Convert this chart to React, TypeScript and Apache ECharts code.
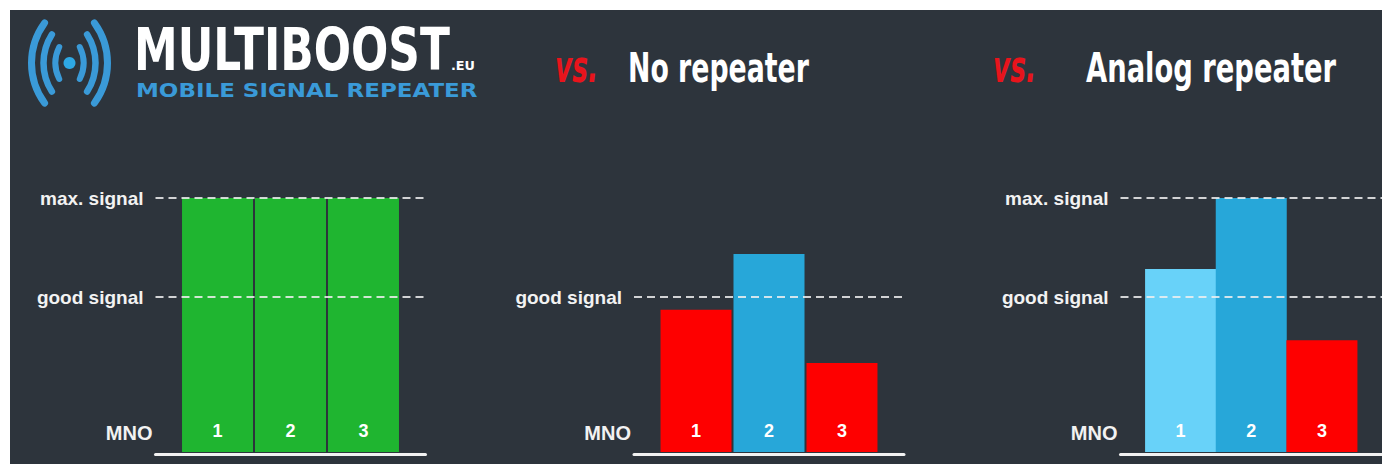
import React, { useEffect, useRef } from 'react';
import * as echarts from 'echarts';

// ---------- data ----------
const categories = ['1', '2', '3'];
const directValues = [100, 100, 100];
const noRepeaterValues = [56, 78, 35];
const analogValues = [72, 100, 44];
const maxSignal = 100;
const goodSignal = 61;
const maxLabel = 'max. signal';
const goodLabel = 'good signal';
const axisName = 'MNO';
const vsText = 'vs.';
const titleNoRep = 'No repeater';
const titleAnalog = 'Analog repeater';
const brand = 'MULTIBOOST';
const brandSuffix = '.EU';
const tagline = 'MOBILE SIGNAL REPEATER';

// ---------- styles ----------
const BG = '#2d343c';
const GREEN = '#1fb530';
const RED = '#fe0000';
const BLUE = '#27a7d9';
const LIGHT = '#68d2f9';
const LOGO_BLUE = '#3a9ad8';
const WHITE = '#f2f2f2';
const directColors = [GREEN, GREEN, GREEN];
const noRepColors = [RED, BLUE, RED];
const analogColors = [LIGHT, BLUE, RED];

const LABEL_FONT = '"Liberation Sans", Arial, sans-serif';
const HEAD_FONT = '"DejaVu Sans"';

function measure(text: string, font: string): number {
  const c = document.createElement('canvas');
  const ctx = c.getContext('2d');
  if (!ctx) return 100;
  ctx.font = font;
  return ctx.measureText(text).width || 100;
}

function headText(text: string, x: number, y: number, size: number, width: number, color: string, italic = false, weight = 'bold') {
  const font = `${italic ? 'italic ' : ''}${weight} ${size}px ${HEAD_FONT}`;
  const w = measure(text, font);
  return {
    type: 'text',
    x,
    y,
    scaleX: width / w,
    silent: true,
    style: {
      text,
      fill: color,
      fontSize: size,
      fontWeight: weight,
      fontStyle: italic ? 'italic' : 'normal',
      fontFamily: HEAD_FONT,
      align: 'left',
      verticalAlign: 'middle',
    },
  };
}

function arcEl(cx: number, cy: number, r: number, a0: number, a1: number, width: number) {
  return {
    type: 'arc',
    silent: true,
    shape: { cx, cy, r, startAngle: a0, endAngle: a1, clockwise: true },
    style: { stroke: LOGO_BLUE, lineWidth: width, fill: 'none', lineCap: 'round' },
  };
}

const GRID_LEFTS = [145.5, 624, 1110.5];
const GRID_TOP = 188;
const GRID_H = 254;
const GRID_W = 270;

function buildSeries(idx: number, values: number[], colors: string[], lines: { v: number; n: string }[]) {
  return {
    type: 'bar',
    xAxisIndex: idx,
    yAxisIndex: idx,
    barWidth: 71,
    data: categories.map((c, i) => ({
      name: c,
      value: [i + 1, values[i]],
      itemStyle: { color: colors[i] },
    })),
    label: {
      show: true,
      position: 'insideBottom',
      distance: 12,
      formatter: (p: any) => p.name,
      color: '#ffffff',
      fontSize: 18,
      fontWeight: 'bold',
      fontFamily: LABEL_FONT,
    },
    markLine: {
      silent: true,
      symbol: ['none', 'none'],
      lineStyle: { color: 'rgba(240,240,240,0.85)', width: 2, type: [8, 5] },
      label: {
        show: true,
        position: 'start',
        distance: 12,
        formatter: '{b}',
        color: WHITE,
        fontSize: 19,
        fontWeight: 'bold',
        fontFamily: LABEL_FONT,
      },
      data: lines.map((l) => ({ yAxis: l.v, name: l.n })),
    },
  };
}

export default function App() {
  const ref = useRef<HTMLDivElement>(null);
  useEffect(() => {
    if (!ref.current) return;
    const chart = echarts.init(ref.current, undefined, { renderer: 'svg' });

    const grids = GRID_LEFTS.map((l) => ({ left: l, top: GRID_TOP, width: GRID_W, height: GRID_H }));
    const xAxes = GRID_LEFTS.map((_, i) => ({
      type: 'value',
      gridIndex: i,
      min: 0.15,
      max: 3.85,
      offset: 2,
      axisLine: { show: true, onZero: false, lineStyle: { color: WHITE, width: 3 } },
      axisTick: { show: false },
      axisLabel: { show: false },
      splitLine: { show: false },
      name: axisName,
      nameLocation: 'start',
      nameGap: 3,
      nameTextStyle: {
        color: WHITE,
        fontSize: 20,
        fontWeight: 'bold',
        fontFamily: LABEL_FONT,
        verticalAlign: 'bottom',
        padding: [0, 0, 11, 0],
      },
    }));
    const yAxes = GRID_LEFTS.map((_, i) => ({
      type: 'value',
      gridIndex: i,
      min: 0,
      max: 100,
      show: false,
    }));

    const graphics: any[] = [];
    // logo icon (centre at 59,53 in chart coords)
    const lcx = 59.5;
    const lcy = 53;
    const arcs = [
      { off: 22, r: 36, a: 0.46, w: 6 },
      { off: 27, r: 53, a: 0.57, w: 6.5 },
      { off: 30, r: 68, a: 0.63, w: 7 },
    ];
    arcs.forEach((a) => {
      graphics.push(arcEl(lcx + a.off, lcy, a.r, Math.PI - a.a, Math.PI + a.a, a.w));
      graphics.push(arcEl(lcx - a.off, lcy, a.r, -a.a, a.a, a.w));
    });
    graphics.push({
      type: 'circle',
      silent: true,
      shape: { cx: lcx, cy: lcy, r: 6 },
      style: { fill: '#2ea8e4' },
    });
    graphics.push(headText(brand, 124, 40, 58, 316, '#ffffff'));
    graphics.push(headText(brandSuffix, 441, 56, 12, 24, '#ffffff'));
    graphics.push(headText(tagline, 126, 80.5, 19, 342, LOGO_BLUE));
    graphics.push(headText(vsText, 545, 57, 44, 43, '#e8141c', true));
    graphics.push(headText(titleNoRep, 618, 58, 40, 181, '#ffffff'));
    graphics.push(headText(vsText, 983, 57, 44, 43, '#e8141c', true));
    graphics.push(headText(titleAnalog, 1076, 58, 40, 250, '#ffffff'));

    chart.setOption({
      animation: false,
      backgroundColor: BG,
      grid: grids,
      xAxis: xAxes,
      yAxis: yAxes,
      graphic: { elements: graphics },
      series: [
        buildSeries(0, directValues, directColors, [
          { v: maxSignal, n: maxLabel },
          { v: goodSignal, n: goodLabel },
        ]),
        buildSeries(1, noRepeaterValues, noRepColors, [{ v: goodSignal, n: goodLabel }]),
        buildSeries(2, analogValues, analogColors, [
          { v: maxSignal, n: maxLabel },
          { v: goodSignal, n: goodLabel },
        ]),
      ],
    } as any);

    return () => chart.dispose();
  }, []);

  return (
    <div style={{ position: 'fixed', left: 0, top: 0, width: 1387, height: 464, background: '#ffffff', overflow: 'hidden' }}>
      <div ref={ref} style={{ position: 'absolute', left: 10, top: 10, width: 1372, height: 454 }} />
    </div>
  );
}
